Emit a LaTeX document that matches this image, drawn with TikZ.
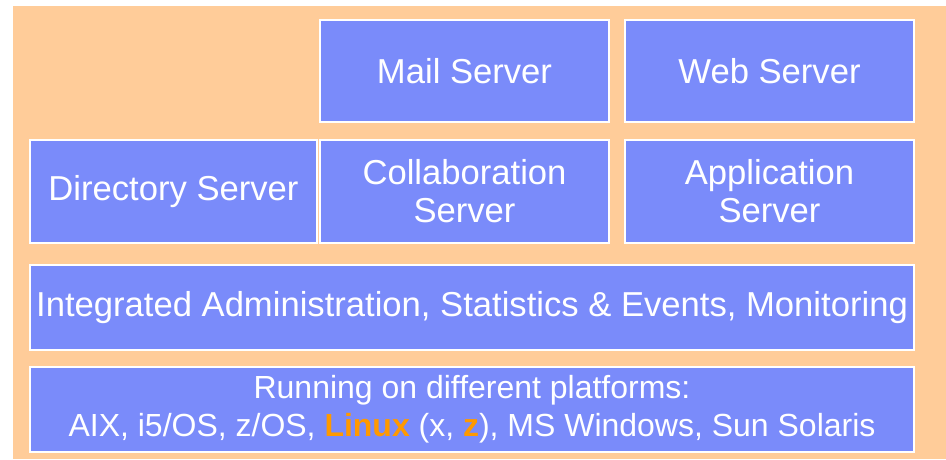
\documentclass[tikz,border=0pt]{standalone}
\usepackage{fontspec}
\setmainfont{Liberation Sans}
\usepackage{xcolor}
\definecolor{LayerBackground}{RGB}{255,204,153}
\definecolor{LayerBox}{RGB}{122,139,250}
\definecolor{LayerHighlight}{RGB}{255,153,0}
\usepackage{tikz}
\usetikzlibrary{positioning}

\begin{document}
\begin{tikzpicture}[
	layer/.style={draw=white, line width=0.04cm, fill=LayerBox, text=white,
		align=center, inner sep=0pt, font=\fontsize{19.7}{21.5}\selectfont},
	small/.style={minimum width=5.78cm, minimum height=2.05cm},
	wide/.style={minimum width=17.68cm, minimum height=1.70cm}]
	\useasboundingbox (0,0) rectangle (18.92,-9.18);
	\fill[LayerBackground] (0.26,-0.12) rectangle (18.92,-9.18);
	\node[layer, small] (mail)   at (9.29,-1.42)  {Mail Server};
	\node[layer, small] (web)    at (15.39,-1.42) {Web Server};
	\node[layer, small, minimum width=5.74cm] (dir) at (3.47,-3.83) {Directory Server};
	\node[layer, small] (collab) at (9.29,-3.83)  {Collaboration\\Server};
	\node[layer, small] (app)    at (15.39,-3.83) {Application\\Server};
	\node[layer, wide]  (admin)  at (9.44,-6.15)  {Integrated Administration, Statistics \& Events, Monitoring};
	\node[layer, wide, font=\fontsize{18.2}{21.5}\selectfont] (platform) at (9.44,-8.19)
		{Running on different platforms:\\AIX, i5/OS, z/OS, \textcolor{LayerHighlight}{\textbf{Linux}} (x, \textcolor{LayerHighlight}{\textbf{z}}), MS Windows, Sun Solaris};
\end{tikzpicture}
\end{document}
